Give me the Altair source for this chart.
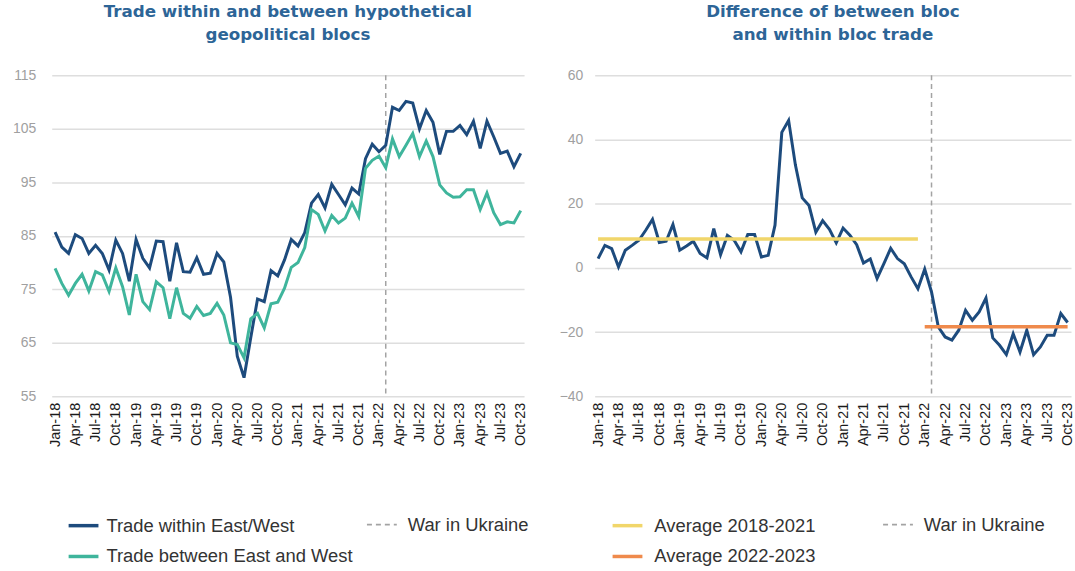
import altair as alt
import pandas as pd

# Monthly category labels, Jan-18 .. Oct-23
mon_names = ["Jan", "Feb", "Mar", "Apr", "May", "Jun", "Jul", "Aug", "Sep", "Oct", "Nov", "Dec"]
months = [f"{m}-{y}" for y in range(18, 24) for m in mon_names][:70]
tick_months = months[::3]

# Trade index, within blocs (East/West)
trade_within = [
    85.7, 82.9, 81.7, 85.2, 84.5, 81.7, 83.2, 81.7, 78.6, 84.2,
    81.7, 76.5, 84.3, 80.8, 79.0, 84.0, 83.9, 76.5, 83.7, 78.3,
    78.2, 80.9, 77.8, 78.0, 81.7, 80.1, 73.5, 62.5, 58.5, 66.0,
    73.2, 72.7, 78.5, 77.5, 80.5, 84.3, 83.1, 85.6, 91.1, 92.7,
    90.2, 94.6, 92.7, 90.8, 93.9, 92.8, 99.4, 102.1, 100.7, 101.9,
    109.0, 108.4, 110.1, 109.8, 105.0, 108.4, 106.2, 100.2, 104.5, 104.5,
    105.6, 103.9, 106.4, 101.3, 106.4, 103.5, 100.4, 100.8, 97.9, 100.4,
]

# Trade index, between East and West
trade_between = [
    78.9, 76.1, 73.9, 76.1, 77.8, 74.7, 78.3, 77.7, 74.6, 79.0,
    75.5, 70.2, 77.8, 72.7, 71.2, 76.4, 75.3, 69.5, 75.3, 70.5,
    69.6, 71.8, 70.1, 70.5, 72.4, 70.2, 65.0, 64.7, 62.2, 69.5,
    70.5, 67.8, 72.3, 72.6, 75.2, 79.1, 80.0, 82.8, 89.9, 89.0,
    85.9, 88.8, 87.4, 88.3, 91.1, 88.6, 97.6, 99.1, 99.9, 97.7,
    103.1, 99.8, 101.9, 104.1, 99.8, 102.7, 99.8, 94.5, 93.0, 92.2,
    92.3, 93.6, 93.6, 89.9, 93.0, 89.3, 87.1, 87.6, 87.4, 89.7,
]

# Difference of between-bloc and within-bloc trade
bloc_difference = [
    2.9, 7.0, 6.0, 0.3, 5.5, 7.0, 8.6, 11.7, 15.1, 7.9,
    8.3, 13.5, 5.5, 6.8, 8.3, 4.5, 3.1, 12.2, 4.1, 10.1,
    8.6, 5.0, 10.4, 10.4, 3.4, 3.9, 13.3, 42.2, 45.9, 32.0,
    21.8, 19.4, 11.1, 14.7, 12.0, 7.8, 12.4, 10.2, 7.2, 1.5,
    2.8, -3.3, 1.3, 6.1, 2.9, 1.3, -2.8, -6.5, -0.4, -7.5,
    -18.4, -21.5, -22.5, -19.4, -13.2, -16.3, -13.7, -9.4, -21.8, -24.1,
    -27.0, -20.5, -26.2, -19.4, -27.0, -24.6, -21.0, -21.0, -14.2, -17.0,
]

# Period averages of the difference
avg_labels = ["Average 2018-2021", "Average 2022-2023"]
avg_values = [9.0, -18.3]
avg_start = ["Jan-18", "Jan-22"]
avg_end = ["Dec-21", "Oct-23"]

war_month = "Feb-22"
war_label = "War in Ukraine"

series_names = ["Trade within East/West", "Trade between East and West"]

BLUE = "#1d4b7d"
TEAL = "#3fb59c"
YELLOW = "#f1d66a"
ORANGE = "#ef8a4c"
GREY_DASH = "#a3a3a3"
TITLE_BLUE = "#2d6597"
FONT = "Liberation Sans"
LEGEND_SIZE = 18.5
LEGEND_Y = 436

# ---- tables -------------------------------------------------------------
left_df = pd.concat([
    pd.DataFrame({"month": months, "value": trade_within, "series": series_names[0]}),
    pd.DataFrame({"month": months, "value": trade_between, "series": series_names[1]}),
])
diff_df = pd.DataFrame({"month": months, "value": bloc_difference})
avg_df = pd.DataFrame({
    "month": avg_start + avg_end,
    "value": avg_values + avg_values,
    "label": avg_labels + avg_labels,
})
war_df = pd.DataFrame({"month": [war_month], "event": [war_label]})


def x_enc():
    return alt.X(
        "month:N",
        sort=months,
        scale=alt.Scale(type="point", domain=months, padding=0.5),
        axis=alt.Axis(
            values=tick_months, labelAngle=270, title=None, grid=False,
            domain=False, ticks=False, labelPadding=6, labelFont=FONT,
            labelFontSize=14.5, labelColor="#1a1a1a",
        ),
    )


def y_enc(lo, hi, label_pad):
    return alt.Y(
        "value:Q",
        scale=alt.Scale(domain=[lo, hi], nice=False, zero=False),
        axis=alt.Axis(
            values=list(range(lo, hi + 1, 10)), title=None, domain=False,
            ticks=False, grid=True, gridColor="#dedede", gridWidth=1.5,
            labelFont=FONT, labelFontSize=14, labelColor="#a0a0a0",
            labelPadding=label_pad,
        ),
    )


def line_legend(lx, ly, offset):
    return alt.Legend(
        orient="none", legendX=lx, legendY=ly, direction="vertical",
        title=None, symbolType="stroke", symbolSize=900,
        symbolStrokeWidth=3.5, labelFont=FONT, labelFontSize=LEGEND_SIZE,
        labelColor="#333333", rowPadding=4, labelOffset=offset,
        labelLimit=400,
    )


def war_rule(lx, ly):
    return alt.Chart(war_df).mark_rule(color=GREY_DASH, strokeWidth=1.5).encode(
        x=x_enc(),
        strokeDash=alt.StrokeDash(
            "event:N",
            scale=alt.Scale(domain=[war_label], range=[[5, 4]]),
            legend=alt.Legend(
                orient="none", legendX=lx, legendY=ly, title=None,
                symbolType="stroke", symbolSize=900, symbolStrokeWidth=1.8,
                symbolStrokeColor=GREY_DASH, labelFont=FONT,
                labelFontSize=LEGEND_SIZE, labelColor="#333333", labelOffset=10,
                labelLimit=400,
            ),
        ),
    )


def title(lines):
    return alt.TitleParams(
        text=lines, font="DejaVu Sans", fontSize=16.8, fontWeight="bold",
        color=TITLE_BLUE, lineHeight=23, offset=25, anchor="middle",
    )


# ---- left panel: trade indices -------------------------------------------
left_lines = alt.Chart(left_df).mark_line(strokeWidth=3).encode(
    x=x_enc(),
    y=y_enc(55, 115, 16),
    color=alt.Color(
        "series:N",
        scale=alt.Scale(domain=series_names, range=[BLUE, TEAL]),
        legend=line_legend(15, LEGEND_Y, 6),
    ),
    detail="series:N",
)

left = alt.layer(war_rule(316, LEGEND_Y), left_lines).properties(
    width=475, height=323,
    title=title(["Trade within and between hypothetical", "geopolitical blocs"]),
)

# ---- right panel: difference with period averages ------------------------
diff_line = alt.Chart(diff_df).mark_line(strokeWidth=3, color=BLUE).encode(
    x=x_enc(),
    y=y_enc(-40, 60, 12),
)

avg_lines = alt.Chart(avg_df).mark_line(strokeWidth=3.5).encode(
    x=x_enc(),
    y=alt.Y("value:Q"),
    color=alt.Color(
        "label:N",
        scale=alt.Scale(domain=avg_labels, range=[YELLOW, ORANGE]),
        legend=line_legend(16, LEGEND_Y, 10),
    ),
    detail="label:N",
)

right = alt.layer(war_rule(289, LEGEND_Y), diff_line, avg_lines).properties(
    width=479, height=323,
    title=title(["Difference of between bloc", "and within bloc trade"]),
)

chart = (
    alt.hconcat(left, right, spacing=30)
    .resolve_scale(x="independent", y="independent", color="independent", strokeDash="independent")
    .resolve_legend(color="independent", strokeDash="independent")
    .configure_view(stroke=None)
    .properties(padding={"left": 12, "top": 2, "right": 0, "bottom": 0}, background="white")
)

chart.save("out.html", embed_options={"renderer": "svg", "actions": False})
